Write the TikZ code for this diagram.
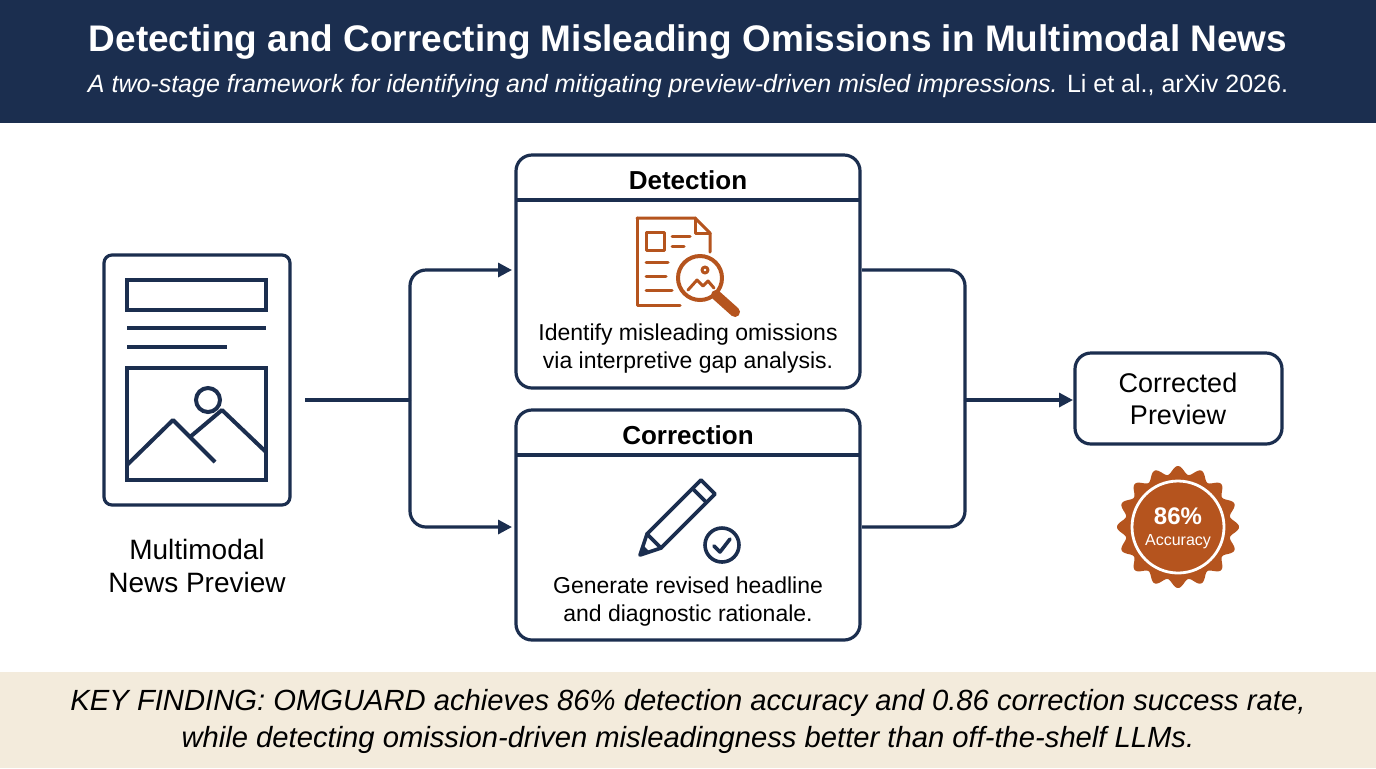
\documentclass[tikz,border=0pt]{standalone}
\usepackage{fontspec}
\setmainfont{Liberation Sans}
\usetikzlibrary{arrows.meta}
\definecolor{navy}{HTML}{1B2E4F}
\definecolor{rust}{HTML}{B5541E}
\definecolor{beige}{HTML}{F3EBDC}
\begin{document}
\begin{tikzpicture}[x=0.5pt,y=-0.5pt,
  ln/.style={navy,line width=1.6pt},
  box/.style={draw=navy,line width=1.6pt,rounded corners=8pt},
  ic/.style={rust,line width=1.5pt,line cap=round,line join=round},
  arr/.style={ln,-{Triangle[length=7pt,width=7pt]}},
  txt/.style={font=\fontsize{11}{13}\selectfont,text=black,align=center}]
\useasboundingbox (0,0) rectangle (1376,768);
\fill[white] (0,0) rectangle (1376,768);
\fill[navy] (0,0) rectangle (1376,123);
\node[text=white,font=\fontsize{18.5}{20}\selectfont\bfseries] (title) at (688,42) {Detecting and Correcting Misleading Omissions in Multimodal News};
\node[text=white,font=\fontsize{12.5}{14}\selectfont] (sub) at (688,86) {\textit{A two-stage framework for identifying and mitigating preview-driven misled impressions.} Li et al., arXiv 2026.};
\fill[beige] (0,672) rectangle (1376,768);
\node[font=\fontsize{14.6}{18.5}\selectfont\itshape,align=center] (key) at (688,721) {KEY FINDING: OMGUARD achieves 86\% detection accuracy and 0.86 correction success rate,\\while detecting omission-driven misleadingness better than off-the-shelf LLMs.};
% document icon
\draw[box,rounded corners=4pt] (104,255) rectangle (290,505);
\node[inner sep=0] (doc) at (197,380) {};
\draw[ln,line width=2pt] (127,280) rectangle (266,310);
\draw[ln,line width=2pt] (127,328) -- (266,328);
\draw[ln,line width=2pt] (127,347) -- (227,347);
\draw[ln,line width=2pt] (127,368) rectangle (266,480);
\draw[ln,line width=2pt] (208,400) circle (12);
\draw[ln,line width=2pt,line join=round] (127,465) -- (173,420) -- (215,462) (190,437) -- (222,410) -- (266,452);
\node[txt,font=\fontsize{14}{16.5}\selectfont] (ml) at (197,566) {Multimodal\\News Preview};
% boxes
\draw[box] (516,155) rectangle (860,388);
\node (det) at (688,271) {};
\draw[ln] (516,200) -- (860,200);
\node[font=\fontsize{13}{15}\selectfont\bfseries] (dett) at (688,180) {Detection};
\node[txt,font=\fontsize{11.5}{14}\selectfont] (detx) at (688,349) {Identify misleading omissions\\via interpretive gap analysis.};
\draw[box] (516,410) rectangle (860,640);
\node (cor) at (688,527) {};
\draw[ln] (516,455) -- (860,455);
\node[font=\fontsize{13}{15}\selectfont\bfseries] (cort) at (688,435) {Correction};
\node[txt,font=\fontsize{11.5}{14}\selectfont] (corx) at (688,602) {Generate revised headline\\and diagnostic rationale.};
% detection icon
\draw[ic] (637,218) -- (695,218) -- (710,233) -- (710,252);
\draw[ic] (695,218) -- (695,233) -- (710,233);
\draw[ic] (637,218) -- (637,305) -- (680,305);
\draw[ic] (646,232) rectangle (664,250);
\draw[ic] (672,236) -- (690,236) (672,246) -- (684,246) (646,262) -- (668,262) (646,276) -- (666,276) (646,290) -- (672,290);
\draw[ic,line width=2pt] (700,278) circle (22);
\draw[ic] (688,290) -- (697,280) -- (703,286) -- (708,281) -- (714,288);
\draw[ic] (705,270) circle (3);
\draw[ic,line width=5pt] (716,295) -- (735,312);
% pencil icon
\draw[ic,navy,line width=1.8pt] (715,494) -- (661,548) -- (640,555) -- (647,534) -- (701,480) -- cycle;
\draw[ic,navy,line width=1.8pt] (706.6,502.6) -- (692.5,488.5);
\draw[ic,navy,line width=1.8pt] (661,548) -- (647,534);
\fill[navy] (640,555) -- (643,545) -- (650,552) -- cycle;
\draw[ic,navy,line width=1.8pt] (722,545) circle (17);
\draw[ic,navy,line width=1.8pt] (714,546) -- (720,552) -- (730,539);
% connectors
\coordinate (j1) at (410,400);
\draw[ln] (305,400) -- (j1);
\draw[arr,rounded corners=8pt] (j1) -- (410,270) -- (512,270);
\draw[arr,rounded corners=8pt] (j1) -- (410,527) -- (512,527);
\coordinate (j2) at (965,400);
\draw[ln,rounded corners=8pt] (862,270) -- (965,270) -- (j2);
\draw[ln,rounded corners=8pt] (862,527) -- (965,527) -- (j2);
\draw[box] (1075,353) rectangle (1282,444);
\node[font=\fontsize{13.5}{16}\selectfont,align=center] (cp) at (1178,399) {Corrected\\Preview};
\draw[arr] (j2) -- (1073,400);
% badge
\fill[rust] plot[domain=0:360,samples=300,smooth] ({1178+(57+4*cos(16*\x))*cos(\x)},{527+(57+4*cos(16*\x))*sin(\x)}) -- cycle;
\draw[white,line width=1.4pt] (1178,527) circle (46);
\node[text=white,font=\fontsize{12}{13}\selectfont\bfseries] (b1) at (1178,516) {86\%};
\node[text=white,font=\fontsize{8}{9}\selectfont] (b2) at (1178,542) {Accuracy};
\end{tikzpicture}
\end{document}
